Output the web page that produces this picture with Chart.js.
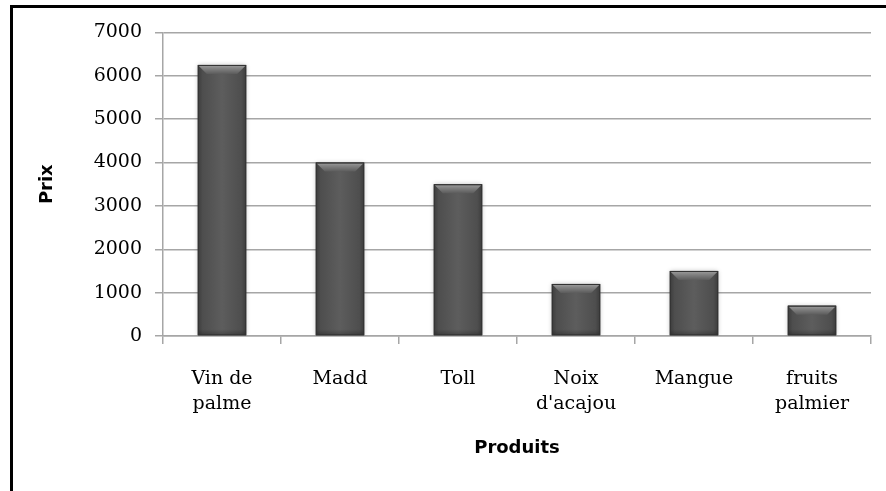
<!DOCTYPE html>
<html>
<head>
<meta charset="utf-8">
<script src="https://cdn.jsdelivr.net/npm/chart.js@4/dist/chart.umd.min.js"></script>
<style>
  html, body { margin: 0; padding: 0; background: #fff; }
  #cadre {
    position: absolute; left: 10px; top: 5px;
    width: 873px; height: 483px;
    border-top: 3px solid #000; border-left: 3px solid #000;
  }
  #cadre canvas { display: block; }
</style>
</head>
<body>
<div id="cadre"><canvas id="graphique"></canvas></div>
<script>
// Données du graphique
const produits = [["Vin de", "palme"], "Madd", "Toll", ["Noix", "d'acajou"], "Mangue", ["fruits", "palmier"]];
const prix = [6250, 4000, 3500, 1200, 1500, 700];
const graduationsPrix = [0, 1000, 2000, 3000, 4000, 5000, 6000, 7000];

const gris = "#a6a6a6";

// Ombre légère, puis dégradé + biseau dessinés par-dessus chaque barre
const effetBarres = {
  id: "effetBarres",
  beforeDatasetsDraw(chart) {
    const ctx = chart.ctx;
    ctx.save();
    ctx.shadowColor = "rgba(0,0,0,0.3)";
    ctx.shadowBlur = 5;
  },
  afterDatasetsDraw(chart) {
    const ctx = chart.ctx;
    ctx.restore();
    chart.getDatasetMeta(0).data.forEach((el) => {
      const { x, y, base, width } = el.getProps(["x", "y", "base", "width"], true);
      const g1 = x - width / 2, d1 = x + width / 2;
      ctx.save();
      // dégradé horizontal
      const gh = ctx.createLinearGradient(g1, 0, d1, 0);
      gh.addColorStop(0, "#3c3c3c");
      gh.addColorStop(0.1, "#4e4e4e");
      gh.addColorStop(0.5, "#5d5d5d");
      gh.addColorStop(0.9, "#4e4e4e");
      gh.addColorStop(1, "#3c3c3c");
      ctx.fillStyle = gh;
      ctx.fillRect(g1, y, width, base - y);
      // bande sombre en bas
      const gb = ctx.createLinearGradient(0, base - 6, 0, base);
      gb.addColorStop(0, "rgba(0,0,0,0)");
      gb.addColorStop(1, "rgba(0,0,0,0.25)");
      ctx.fillStyle = gb;
      ctx.fillRect(g1, base - 6, width, 6);
      // biseau du haut
      const b = 9;
      const gv = ctx.createLinearGradient(0, y, 0, y + b);
      gv.addColorStop(0, "#a0a0a0");
      gv.addColorStop(0.35, "#858585");
      gv.addColorStop(1, "#5c5c5c");
      ctx.beginPath();
      ctx.moveTo(g1 + 1, y + 1);
      ctx.lineTo(d1 - 1, y + 1);
      ctx.lineTo(d1 - b, y + b);
      ctx.lineTo(g1 + b, y + b);
      ctx.closePath();
      ctx.fillStyle = gv;
      ctx.fill();
      // contour
      ctx.strokeStyle = "#333333";
      ctx.lineWidth = 1;
      ctx.strokeRect(g1 + 0.5, y + 0.5, width - 1, base - y - 1);
      ctx.restore();
    });
  },
};

new Chart(document.getElementById("graphique"), {
  type: "bar",
  data: {
    labels: produits,
    datasets: [
      {
        data: prix,
        backgroundColor: "#555555",
        borderWidth: 0,
        categoryPercentage: 1,
        barPercentage: 0.41,
      },
    ],
  },
  options: {
    responsive: true,
    maintainAspectRatio: false,
    animation: false,
    events: [],
    layout: { padding: { top: 24, right: 15, bottom: 0, left: 0 } },
    plugins: { legend: { display: false }, tooltip: { enabled: false } },
    scales: {
      x: {
        afterFit: (s) => { s.height = 155; },
        grid: { display: true, drawOnChartArea: false, drawTicks: true, tickLength: 8, color: gris, lineWidth: 1.5 },
        border: { color: gris, width: 1.5 },
        ticks: {
          color: "#000",
          padding: 22,
          font: { family: "DejaVu Serif", size: 19, lineHeight: 1.35 },
          maxRotation: 0,
        },
        title: {
          display: true,
          text: "Produits",
          color: "#000",
          font: { family: "DejaVu Sans", weight: "bold", size: 18 },
          padding: { top: 0, bottom: 32 },
        },
      },
      y: {
        min: 0,
        max: 7000,
        afterFit: (s) => { s.width = 150; },
        afterBuildTicks: (s) => { s.ticks = graduationsPrix.map((v) => ({ value: v })); },
        grid: { color: gris, lineWidth: 1.5, tickLength: 8 },
        border: { color: gris, width: 1.5 },
        ticks: {
          color: "#000",
          padding: 13,
          font: { family: "DejaVu Serif", size: 19 },
          callback: (v) => String(v),
        },
        title: {
          display: true,
          text: "Prix",
          color: "#000",
          font: { family: "DejaVu Sans", weight: "bold", size: 18 },
          padding: { top: 24, bottom: 0 },
        },
      },
    },
  },
  plugins: [effetBarres],
});
</script>
</body>
</html>
